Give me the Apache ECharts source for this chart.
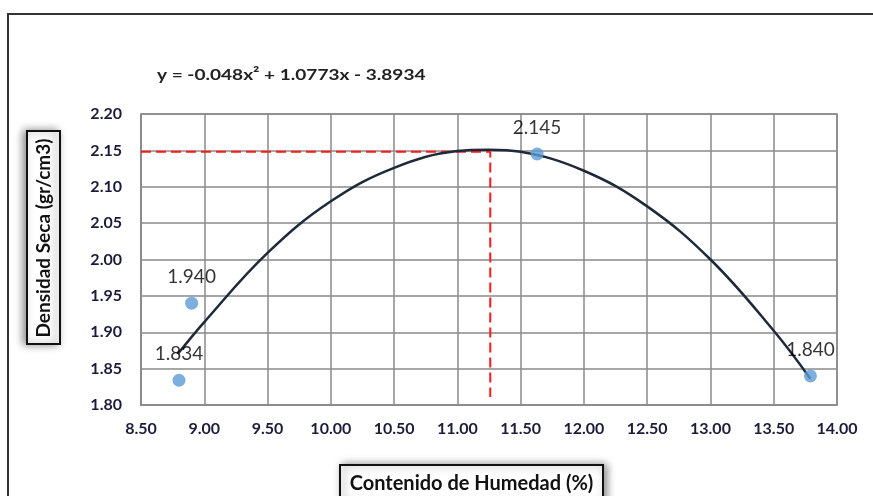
<!DOCTYPE html>
<html>
<head>
<meta charset="utf-8">
<script src="https://cdn.jsdelivr.net/npm/echarts@6/dist/echarts.min.js"></script>
<style>
  html, body { margin: 0; padding: 0; background: #fff; }
  #chart { width: 873px; height: 496px; }
</style>
</head>
<body>
<div id="chart"></div>
<script>
// measured points (humedad %, densidad seca)
const humedad = [8.80, 8.90, 11.63, 13.79]
const densidad = [1.834, 1.940, 2.145, 1.840]
const pointLabels = ['1.834', '1.940', '2.145', '1.840']

// trend curve
const curveX = [8.79, 9.00, 9.50, 10.00, 10.50, 11.00, 11.25, 11.50, 12.00, 12.50, 13.00, 13.50, 13.79]
const curveY = [1.870, 1.914, 2.009, 2.080, 2.126, 2.149, 2.151, 2.148, 2.122, 2.073, 2.000, 1.902, 1.836]

// optimum guide (max density / optimum moisture)
const optX = 11.26
const optY = 2.148
const guideBottom = 1.811

const equation = 'y = -0.048x² + 1.0773x - 3.8934'
const xName = 'Contenido de Humedad (%)'
const yName = 'Densidad Seca (gr/cm3)'

const font = 'Lato'
const tickColor = '#1c1c3a'
const gridColor = '#8a8a8a'

const chart = echarts.init(document.getElementById('chart'))

chart.setOption({
  animation: false,
  grid: {
    left: 141,
    right: 36,
    top: 114,
    bottom: 91,
    show: true,
    borderColor: gridColor,
    borderWidth: 1.5
  },
  xAxis: {
    type: 'value',
    min: 8.5,
    max: 14,
    interval: 0.5,
    axisLine: { show: true, lineStyle: { color: gridColor, width: 1.5 } },
    axisTick: { show: false },
    axisLabel: {
      margin: 16,
      color: tickColor,
      fontFamily: font,
      fontWeight: 'bold',
      fontSize: 16,
      formatter: (v) => v.toFixed(2)
    },
    splitLine: { lineStyle: { color: gridColor, width: 1.5 } }
  },
  yAxis: {
    type: 'value',
    min: 1.8,
    max: 2.2,
    interval: 0.05,
    axisLine: { show: true, lineStyle: { color: gridColor, width: 1.5 } },
    axisTick: { show: false },
    axisLabel: {
      margin: 19,
      color: tickColor,
      fontFamily: font,
      fontWeight: 'bold',
      fontSize: 16,
      formatter: (v) => v.toFixed(2)
    },
    splitLine: { lineStyle: { color: gridColor, width: 1.5 } }
  },
  graphic: [
    {
      type: 'rect',
      shape: { x: 8, y: 14, width: 900, height: 520 },
      style: { fill: 'none', stroke: '#333', lineWidth: 2 },
      z: -1
    },
    {
      type: 'text',
      x: 157,
      y: 75,
      scaleX: 1.19,
      style: {
        text: equation,
        fill: '#222',
        font: 'bold 16px ' + font,
        textVerticalAlign: 'middle'
      }
    },
    {
      type: 'rect',
      shape: { x: 27, y: 131, width: 33, height: 213 },
      style: {
        fill: '#fff',
        stroke: '#111',
        lineWidth: 2,
        shadowBlur: 8,
        shadowOffsetX: -3,
        shadowColor: 'rgba(0,0,0,0.45)'
      }
    },
    {
      type: 'text',
      x: 44,
      y: 238,
      rotation: Math.PI / 2,
      style: {
        text: yName,
        fill: '#111',
        font: 'bold 19px ' + font,
        textAlign: 'center',
        textVerticalAlign: 'middle'
      }
    },
    {
      type: 'rect',
      shape: { x: 340, y: 465, width: 263, height: 40 },
      style: {
        fill: '#fff',
        stroke: '#111',
        lineWidth: 2,
        shadowBlur: 8,
        shadowOffsetX: 3,
        shadowColor: 'rgba(0,0,0,0.45)'
      }
    },
    {
      type: 'text',
      x: 471.5,
      y: 484,
      style: {
        text: xName,
        fill: '#111',
        font: 'bold 20px ' + font,
        textAlign: 'center',
        textVerticalAlign: 'middle'
      }
    }
  ],
  series: [
    {
      name: 'guia',
      type: 'line',
      symbol: 'none',
      silent: true,
      lineStyle: { color: '#ff1a1a', width: 2, type: [10, 5] },
      data: [[8.5, optY], [optX, optY], [optX, guideBottom]],
      z: 3
    },
    {
      name: 'curva',
      type: 'line',
      symbol: 'none',
      smooth: 0.4,
      lineStyle: { color: '#1e2a3a', width: 2.5 },
      data: curveX.map((x, i) => [x, curveY[i]]),
      z: 4
    },
    {
      name: 'puntos',
      type: 'scatter',
      symbolSize: 13,
      itemStyle: { color: '#5b9bd5' },
      label: {
        show: true,
        position: 'top',
        distance: 10,
        color: '#000',
        fontFamily: font,
        fontSize: 19,
        formatter: (p) => pointLabels[p.dataIndex]
      },
      data: humedad.map((x, i) => [x, densidad[i]]),
      z: 5
    }
  ]
})
</script>
</body>
</html>
